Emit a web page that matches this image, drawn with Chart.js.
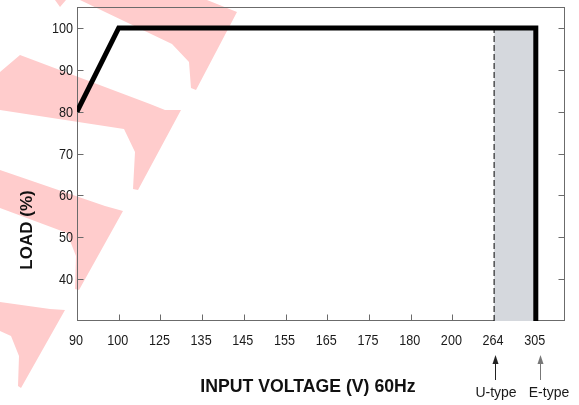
<!DOCTYPE html>
<html>
<head>
<meta charset="utf-8">
<script src="https://cdn.jsdelivr.net/npm/chart.js@4.4.1/dist/chart.umd.min.js"></script>
<style>
  body { margin: 0; background: #fff; }
  canvas { display: block; }
</style>
</head>
<body>
<canvas id="derating" width="579" height="405"></canvas>
<script>
// tick labels on the voltage axis (evenly spaced, one per step)
const voltLabels = ['90', '100', '125', '135', '145', '155', '165', '175', '180', '200', '264', '305'];
const loadTicks = [40, 50, 60, 70, 80, 90, 100];

// derating curve
const curveVolt = ['90', '100', '305', '305'];
const curveLoad = [80, 100, 100, 30];

// shaded range between U-type and E-type limits
const bandVolt = ['264', '305'];
const bandLoad = [100, 100];

// dashed U-type limit
const limitVolt = ['264', '264'];
const limitLoad = [30, 100];

const yMin = 30, yMax = 105;
const xMax = 11.7;

const idx = v => voltLabels.indexOf(v);
const pts = (vs, ls) => vs.map((v, i) => ({x: idx(v), y: ls[i]}));

// red watermark shapes behind the chart
const watermark = [
    [[55,0],[66,0],[60,7]],
    [[80,0],[207,0],[237,12],[196,90],[191,88],[189,62],[172,44]],
    [[20,55],[150,104],[165,110],[181,110],[138,190],[133,189],[135,152],[124,129],[0,110],[0,72]],
    [[0,170],[105,206],[123,211],[79,290],[75,289],[76,256],[67,233],[0,208]],
    [[0,302],[50,309],[65,310],[21,388],[18,386],[19,356],[11,336],[0,331]]
];

function txt(ctx, s, x, y, font, align, sx, color) {
    ctx.save();
    ctx.translate(x, y);
    ctx.scale(sx, 1);
    ctx.font = font;
    ctx.fillStyle = color || '#1a1a1a';
    ctx.textAlign = align;
    ctx.textBaseline = 'alphabetic';
    ctx.fillText(s, 0, 0);
    ctx.restore();
}

function arrow(ctx, x, color) {
    ctx.save();
    ctx.strokeStyle = color;
    ctx.fillStyle = color;
    ctx.lineWidth = 1;
    ctx.beginPath();
    ctx.moveTo(x + 0.5, 380);
    ctx.lineTo(x + 0.5, 362);
    ctx.stroke();
    ctx.beginPath();
    ctx.moveTo(x + 0.5, 355);
    ctx.lineTo(x - 2.5, 364);
    ctx.lineTo(x + 3.5, 364);
    ctx.closePath();
    ctx.fill();
    ctx.restore();
}

const framePlugin = {
    id: 'frame',
    beforeDraw(chart) {
        const ctx = chart.ctx;
        ctx.save();
        ctx.fillStyle = '#ffcccc';
        watermark.forEach(poly => {
            ctx.beginPath();
            poly.forEach((p, i) => i ? ctx.lineTo(p[0], p[1]) : ctx.moveTo(p[0], p[1]));
            ctx.closePath();
            ctx.fill();
        });
        ctx.restore();
    },
    beforeDatasetsDraw(chart) {
        const ctx = chart.ctx;
        const a = chart.chartArea;
        const xs = chart.scales.x, ys = chart.scales.y;
        const l = Math.round(a.left) + 0.5, r = Math.round(a.right) - 0.5;
        const t = Math.round(a.top) + 0.5, b = Math.round(a.bottom) - 0.5;
        ctx.save();
        ctx.strokeStyle = '#6b6b6b';
        ctx.lineWidth = 1;
        ctx.strokeRect(l, t, r - l, b - t);
        ctx.beginPath();
        loadTicks.forEach(v => {
            const y = Math.round(ys.getPixelForValue(v)) + 0.5;
            ctx.moveTo(l, y); ctx.lineTo(l + 6, y);
            ctx.moveTo(r, y); ctx.lineTo(r - 6, y);
        });
        voltLabels.forEach((v, i) => {
            if (i === 0) return;
            const x = Math.round(xs.getPixelForValue(i)) + 0.5;
            ctx.moveTo(x, b); ctx.lineTo(x, b - 6);
        });
        ctx.stroke();
        ctx.restore();
    },
    afterDraw(chart) {
        const ctx = chart.ctx;
        const xs = chart.scales.x, ys = chart.scales.y;
        const a = chart.chartArea;
        const tickFont = '15px "Liberation Sans", Arial, sans-serif';
        loadTicks.forEach(v => {
            txt(ctx, String(v), a.left - 4, ys.getPixelForValue(v) + 5, tickFont, 'right', 0.84);
        });
        voltLabels.forEach((v, i) => {
            txt(ctx, v, xs.getPixelForValue(i) - 1, 345, tickFont, 'center', 0.84);
        });
        txt(ctx, 'INPUT VOLTAGE (V) 60Hz', 308, 392, 'bold 19px "Liberation Sans", Arial, sans-serif', 'center', 0.93, '#111');
        ctx.save();
        ctx.translate(32, 230);
        ctx.rotate(-Math.PI / 2);
        txt(ctx, 'LOAD (%)', 0, 0, 'bold 17px "Liberation Sans", Arial, sans-serif', 'center', 1, '#111');
        ctx.restore();
        arrow(ctx, 495, '#222');
        arrow(ctx, 540, '#777');
        txt(ctx, 'U-type', 496, 397, '14px "Liberation Sans", Arial, sans-serif', 'center', 1);
        txt(ctx, 'E-type', 549, 397, '14px "Liberation Sans", Arial, sans-serif', 'center', 1);
    }
};

new Chart(document.getElementById('derating'), {
    type: 'line',
    data: {
        datasets: [{
            label: 'Load',
            data: pts(curveVolt, curveLoad),
            borderColor: '#000',
            borderWidth: 5,
            borderJoinStyle: 'miter',
            borderCapStyle: 'butt',
            pointRadius: 0,
            tension: 0,
            fill: false
        }, {
            label: 'U-type limit',
            data: pts(limitVolt, limitLoad),
            borderColor: '#000',
            borderWidth: 1,
            borderDash: [6, 3],
            pointRadius: 0,
            fill: false
        }, {
            label: 'Range',
            data: pts(bandVolt, bandLoad),
            borderWidth: 0,
            borderColor: 'rgba(0,0,0,0)',
            backgroundColor: '#d5d8dd',
            pointRadius: 0,
            fill: 'start'
        }]
    },
    options: {
        responsive: false,
        animation: false,
        layout: {padding: {left: 77, right: 14, top: 7, bottom: 84}},
        plugins: {legend: {display: false}, tooltip: {enabled: false}},
        scales: {
            x: {type: 'linear', min: 0, max: xMax, display: false},
            y: {type: 'linear', min: yMin, max: yMax, display: false}
        }
    },
    plugins: [framePlugin]
});
</script>
</body>
</html>
